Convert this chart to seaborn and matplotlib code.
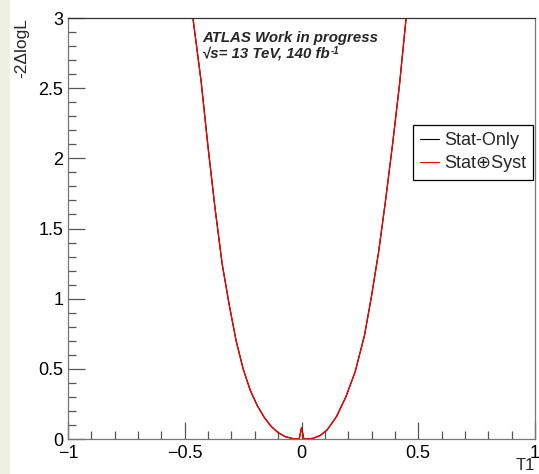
import matplotlib
matplotlib.use("Agg")
import matplotlib.pyplot as plt
import matplotlib.patches as mpatches
from matplotlib.ticker import MultipleLocator, FuncFormatter
import pandas as pd
import seaborn as sns

# Likelihood scan of T1
t1_stat = [-0.48, -0.465, -0.43, -0.40, -0.37, -0.34, -0.31, -0.28, -0.25, -0.22,
           -0.19, -0.16, -0.13, -0.10, -0.07, -0.04, -0.01, 0.0, 0.01, 0.02,
           0.05, 0.08, 0.11, 0.15, 0.19, 0.23, 0.27, 0.30, 0.33, 0.36,
           0.39, 0.42, 0.445, 0.46]
nll_stat = [3.25, 3.0, 2.55, 2.08, 1.64, 1.25, 0.96, 0.70, 0.50, 0.35,
            0.24, 0.155, 0.09, 0.045, 0.017, 0.004, 0.0, 0.08, 0.0, 0.0,
            0.005, 0.025, 0.065, 0.16, 0.30, 0.48, 0.74, 1.02, 1.33, 1.70,
            2.10, 2.53, 2.95, 3.2]

t1_syst = [-0.48, -0.465, -0.43, -0.40, -0.37, -0.34, -0.31, -0.28, -0.25, -0.22,
           -0.19, -0.16, -0.13, -0.10, -0.07, -0.04, -0.01, 0.0, 0.01, 0.02,
           0.05, 0.08, 0.11, 0.15, 0.19, 0.23, 0.27, 0.30, 0.33, 0.36,
           0.39, 0.42, 0.445, 0.46]
nll_syst = [3.24, 3.0, 2.55, 2.07, 1.64, 1.25, 0.96, 0.70, 0.50, 0.35,
            0.24, 0.155, 0.09, 0.045, 0.017, 0.004, 0.0, 0.08, 0.0, 0.0,
            0.005, 0.025, 0.065, 0.16, 0.30, 0.48, 0.74, 1.02, 1.33, 1.70,
            2.10, 2.53, 2.95, 3.2]

labels = ["Stat-Only", "Stat\u2295Syst"]
colors = ["black", "red"]

df = pd.concat([
    pd.DataFrame({"T1": t1_stat, "nll": nll_stat, "fit": labels[0]}),
    pd.DataFrame({"T1": t1_syst, "nll": nll_syst, "fit": labels[1]}),
])

sns.set_style("white")
plt.rcParams["font.family"] = ["Liberation Sans", "DejaVu Sans"]

fig = plt.figure(figsize=(5.39, 4.74), dpi=100)
fig.patch.set_facecolor("white")
fig.patches.append(mpatches.Rectangle((0, 0), 10 / 539, 1, transform=fig.transFigure,
                                      facecolor="#eef1e1", edgecolor="none", zorder=0))
ax = fig.add_axes([68 / 539, 35 / 474, 467 / 539, 421 / 474])

sns.lineplot(data=df, x="T1", y="nll", hue="fit", palette=dict(zip(labels, colors)),
             sort=False, estimator=None, linewidth=0.9, ax=ax, legend=False)

ax.set_xlim(-1, 1)
ax.set_ylim(0, 3)
ax.xaxis.set_major_locator(MultipleLocator(0.5))
ax.xaxis.set_minor_locator(MultipleLocator(0.1))
ax.yaxis.set_major_locator(MultipleLocator(0.5))
ax.yaxis.set_minor_locator(MultipleLocator(0.1))
ax.xaxis.set_major_formatter(FuncFormatter(lambda v, p: ("%g" % v).replace("-", "\u2212")))
ax.yaxis.set_major_formatter(FuncFormatter(lambda v, p: "%g" % v))
ax.tick_params(which="both", direction="in", colors="#555555", labelcolor="black",
               bottom=True, left=True, top=False, right=False, labelsize=13, width=0.9)
ax.tick_params(which="major", length=12)
ax.tick_params(which="minor", length=6)
ax.tick_params(axis="y", pad=3.5)
ax.tick_params(axis="x", pad=4)
for side in ["left", "bottom", "right"]:
    ax.spines[side].set_color("#777777")
    ax.spines[side].set_linewidth(0.9)
ax.spines["top"].set_color("#333333")
ax.spines["top"].set_linewidth(0.9)

ax.set_xlabel("")
fig.text(535 / 539, 0.5 / 474, "T1", fontsize=12, ha="right", va="bottom")
ax.set_ylabel("")
fig.text(21.5 / 539, 1 - 18 / 474, "-2\u0394logL", rotation=90, fontsize=12.5,
         ha="center", va="top")

ax.text(0.287, 0.943, "ATLAS Work in progress", transform=ax.transAxes,
        fontsize=10.8, fontweight="bold", fontstyle="italic", va="baseline")
lumi = ax.text(0.287, 0.907, "\u221as= 13 TeV, 140 fb", transform=ax.transAxes,
               fontsize=10.8, fontweight="bold", fontstyle="italic", va="baseline")
ax.annotate("-1", xy=(1, 1), xycoords=lumi, xytext=(1, 0), textcoords="offset points",
            fontsize=7, fontweight="bold", fontstyle="italic", va="top", ha="left")

handles = [plt.Line2D([], [], color=c, linewidth=0.8) for c in colors]
leg = ax.legend(handles, labels, loc="upper left", bbox_to_anchor=(0.739, 0.746),
                fontsize=13, frameon=True, fancybox=False, framealpha=1,
                edgecolor="black", handlelength=1.05, handletextpad=0.25,
                borderpad=0.4, labelspacing=0.35, borderaxespad=0)
leg.get_frame().set_linewidth(0.9)

fig.savefig("out.png", dpi=100)
